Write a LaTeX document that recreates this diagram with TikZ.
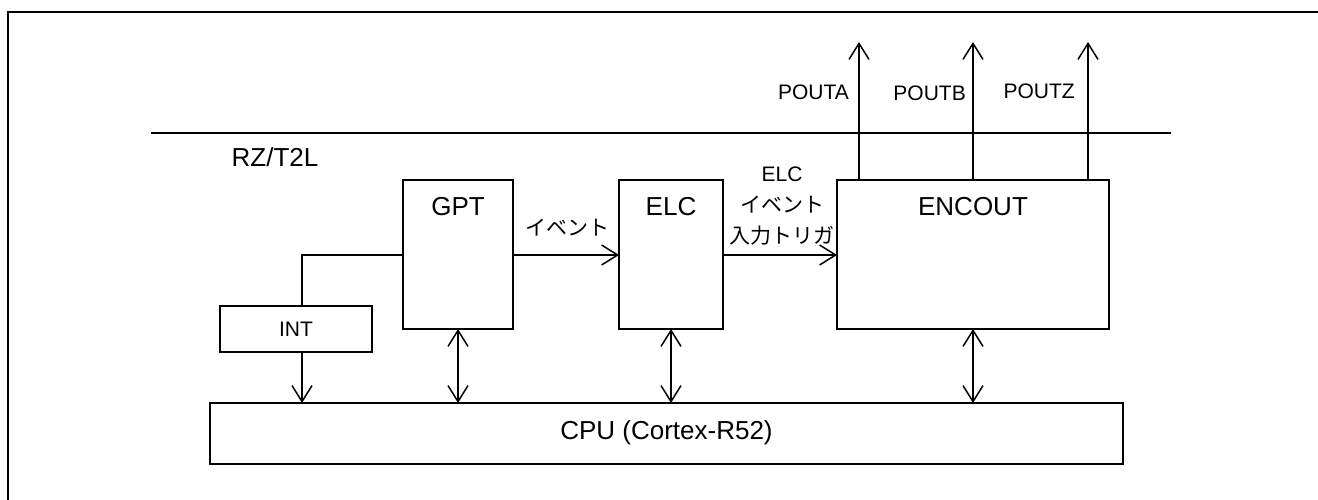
\documentclass[tikz,border=0pt]{standalone}
\usepackage{fontspec}
\setmainfont{Liberation Sans}
\newfontfamily\jp{Noto Sans CJK JP}
\usetikzlibrary{arrows.meta}
\begin{document}
\begin{tikzpicture}[x=1pt,y=-1pt,
  box/.style={draw, line width=1.5pt, rectangle, inner sep=0pt, outer sep=0pt},
  big/.style={font=\fontsize{26}{31}\selectfont, inner sep=0pt},
  small/.style={font=\fontsize{21}{31}\selectfont, inner sep=0pt},
  conn/.style={line width=1.5pt},
  arr/.style={line width=1.5pt, -{Straight Barb[length=16pt,width=20pt,line width=1.5pt]}},
  darr/.style={line width=1.5pt, {Straight Barb[length=16pt,width=20pt,line width=1.5pt]}-{Straight Barb[length=16pt,width=20pt,line width=1.5pt]}}
]
\useasboundingbox (0,0) rectangle (1318,500);
% frame
\coordinate (fTL) at (8,12);
\coordinate (fTR) at (1320,12);
\coordinate (fBL) at (8,502);
\draw[line width=2.3pt] (fBL) -- (fTL) -- (fTR);
% chip boundary
\coordinate (bL) at (151,133);
\coordinate (bR) at (1171,133);
\draw[line width=1.6pt] (bL) -- (bR);
\node[big] (chip) at (275,157) {RZ/T2L};

% boxes
\node[box, minimum width=110pt, minimum height=149pt] (GPT) at (458,254.5) {};
\node[box, minimum width=104pt, minimum height=149pt] (ELC) at (671,254.5) {};
\node[box, minimum width=272pt, minimum height=149pt] (ENC) at (973,254.5) {};
\node[box, minimum width=152pt, minimum height=46pt] (INT) at (296,329) {};
\node[box, minimum width=913pt, minimum height=61pt] (CPU) at (666.5,433.5) {};

\node[big] (GPTt) at (458,207) {GPT};
\node[big] (ELCt) at (671,207) {ELC};
\node[big] (ENCt) at (973,207) {ENCOUT};
\node[small] (INTt) at (296,329) {INT};
\node[big] (CPUt) at (666.5,433) {CPU (Cortex-R52)};

% INT connection
\coordinate (j) at (302,255);
\draw[conn] (j |- INT.north) -- (j) -- (j -| GPT.west);
\draw[arr] (j |- INT.south) -- (j |- CPU.north);

% event arrows
\draw[arr] (GPT.east |- j) -- (ELC.west |- j);
\node[small] (ev1) at (567,228) {\jp イベント};
\draw[arr] (ELC.east |- j) -- (ENC.west |- j);
\node[small, align=center] (ev2) at (782,206) {ELC\\{\jp イベント}\\{\jp 入力トリガ}};

% CPU bus arrows
\draw[darr] (GPT.south) -- (GPT.south |- CPU.north);
\draw[darr] (ELC.south) -- (ELC.south |- CPU.north);
\draw[darr] (ENC.south) -- (ENC.south |- CPU.north);

% outputs
\coordinate (pa) at (859,42);
\coordinate (pb) at (973,42);
\coordinate (pz) at (1088,42);
\draw[arr] (pa |- ENC.north) -- (pa);
\draw[arr] (pb |- ENC.north) -- (pb);
\draw[arr] (pz |- ENC.north) -- (pz);
\node[small, anchor=east] (la) at (849,92) {POUTA};
\node[small, anchor=east] (lb) at (966,93) {POUTB};
\node[small, anchor=east] (lz) at (1075,91) {POUTZ};
\end{tikzpicture}
\end{document}
